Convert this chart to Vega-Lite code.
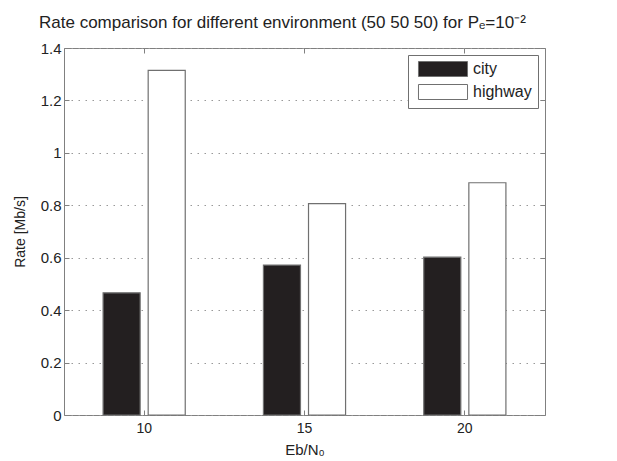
{
  "$schema": "https://vega.github.io/schema/vega-lite/v6.json",
  "width": 481,
  "height": 367,
  "autosize": "none",
  "padding": {"left": 64, "top": 48, "right": 72, "bottom": 46},
  "background": "white",
  "title": {
    "text": "Rate comparison for different environment (50 50 50) for Pₑ=10⁻²",
    "anchor": "start",
    "frame": "group",
    "dx": -25,
    "offset": 9,
    "font": "Liberation Sans",
    "fontSize": 17,
    "fontWeight": "normal",
    "color": "#222222"
  },
  "data": {
    "values": [
      {"EbN0": "10", "environment": "city", "rate": 0.466},
      {"EbN0": "10", "environment": "highway", "rate": 1.315},
      {"EbN0": "15", "environment": "city", "rate": 0.572},
      {"EbN0": "15", "environment": "highway", "rate": 0.806},
      {"EbN0": "20", "environment": "city", "rate": 0.602},
      {"EbN0": "20", "environment": "highway", "rate": 0.886}
    ]
  },
  "config": {
    "view": {"stroke": "#808080", "strokeWidth": 1},
    "font": "Liberation Sans"
  },
  "layer": [
    {
      "mark": {"type": "bar", "stroke": "#707070", "strokeWidth": 1.2},
      "encoding": {
        "x": {
          "field": "EbN0",
          "type": "nominal",
          "sort": ["10", "15", "20"],
          "scale": {"paddingInner": 0, "paddingOuter": 0},
          "axis": {
            "orient": "bottom",
            "title": "Eb/N₀",
            "labelAngle": 0,
            "tickSize": -5,
            "tickColor": "#808080",
            "domain": false,
            "grid": false,
            "labelFont": "Liberation Sans",
            "labelFontSize": 14,
            "labelColor": "#222222",
            "labelPadding": 11,
            "titleFont": "Liberation Sans",
            "titleFontSize": 15,
            "titleFontWeight": "normal",
            "titleColor": "#222222",
            "titlePadding": 7
          }
        },
        "xOffset": {
          "field": "environment",
          "type": "nominal",
          "sort": ["city", "highway"],
          "scale": {"paddingInner": 0.178, "paddingOuter": 0.867}
        },
        "y": {
          "field": "rate",
          "type": "quantitative",
          "stack": null,
          "scale": {"domain": [0, 1.4], "nice": false},
          "axis": {
            "values": [0, 0.2, 0.4, 0.6, 0.8, 1, 1.2, 1.4],
            "format": "~g",
            "grid": true,
            "gridColor": "#999999",
            "gridDash": [1.5, 5.5],
            "tickSize": -5,
            "tickColor": "#808080",
            "domain": false,
            "labelFont": "Liberation Sans",
            "labelFontSize": 15,
            "labelColor": "#222222",
            "labelPadding": 8,
            "labelFlush": false,
            "title": "Rate [Mb/s]",
            "titleFont": "Liberation Sans",
            "titleFontSize": 14,
            "titleFontWeight": "normal",
            "titleColor": "#222222",
            "titlePadding": 13
          }
        },
        "color": {
          "field": "environment",
          "type": "nominal",
          "scale": {"domain": ["city", "highway"], "range": ["#231f20", "#ffffff"]},
          "legend": {
            "orient": "none",
            "legendX": 344,
            "legendY": 7,
            "title": null,
            "symbolType": "M-3.27,-1H3.27V1H-3.27Z",
            "symbolSize": 225,
            "symbolOffset": 21,
            "labelOffset": 22,
            "labelFont": "Liberation Sans",
            "labelFontSize": 16,
            "labelColor": "#222222",
            "padding": 6,
            "rowPadding": 3,
            "strokeColor": "#707070",
            "fillColor": "white",
            "symbolStrokeColor": "#707070",
            "symbolStrokeWidth": 1,
            "symbolOpacity": 1,
            "encode": {
              "symbols": {
                "update": {
                  "stroke": {"value": "#707070"},
                  "strokeWidth": {"value": 1}
                }
              }
            }
          }
        }
      }
    },
    {
      "mark": {"type": "bar", "opacity": 0},
      "encoding": {
        "x": {
          "field": "EbN0",
          "type": "nominal",
          "sort": ["10", "15", "20"],
          "axis": {
            "orient": "top",
            "title": null,
            "labels": false,
            "tickSize": -5,
            "tickColor": "#808080",
            "domain": false,
            "grid": false
          }
        },
        "y": {
          "field": "rate",
          "type": "quantitative",
          "stack": null,
          "axis": {
            "orient": "right",
            "title": null,
            "labels": false,
            "values": [0, 0.2, 0.4, 0.6, 0.8, 1, 1.2, 1.4],
            "tickSize": -5,
            "tickColor": "#808080",
            "domain": false,
            "grid": false
          }
        }
      }
    }
  ],
  "resolve": {"axis": {"x": "independent", "y": "independent"}}
}
